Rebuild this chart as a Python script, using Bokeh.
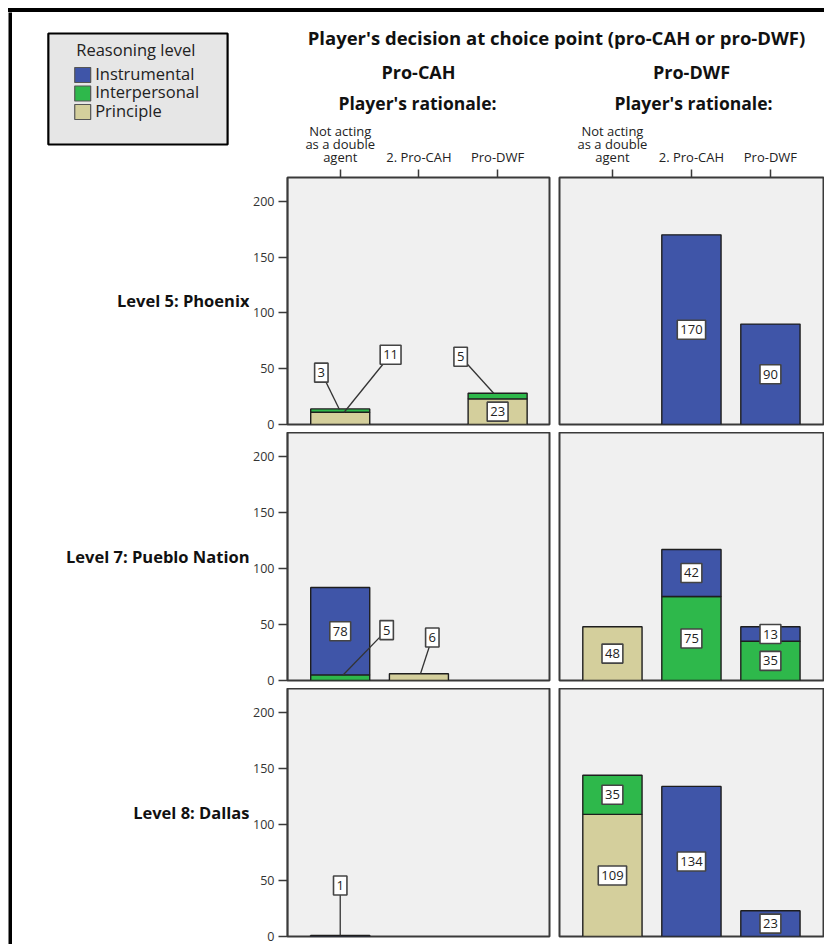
from bokeh.plotting import figure
from bokeh.layouts import row, column
from bokeh.models import ColumnDataSource, Range1d, LinearAxis, FixedTicker, Spacer, Div
from bokeh.core.properties import value
from bokeh.embed import file_html
from bokeh.resources import INLINE

FONT = "Open Sans"

# ---------------- data ----------------
levels = ["Instrumental", "Interpersonal", "Principle"]
level_colors = ["#3f55a8", "#2eb84b", "#d4cf9c"]
stack_order = ["Principle", "Interpersonal", "Instrumental"]   # bottom -> top
row_labels = ["Level 5: Phoenix", "Level 7: Pueblo Nation", "Level 8: Dallas"]
decisions = ["Pro-CAH", "Pro-DWF"]
rationales = ["Not acting\nas a double\nagent", "2. Pro-CAH", "Pro-DWF"]
y_ticks = [0, 50, 100, 150, 200]
title = "Player's decision at choice point (pro-CAH or pro-DWF)"
subtitle = "Player's rationale:"
legend_title = "Reasoning level"

# counts per row (level 5, 7, 8) and rationale, for each decision panel
instrumental_cah = [[0, 0, 0], [78, 0, 0], [1, 0, 0]]
instrumental_dwf = [[0, 170, 90], [0, 42, 13], [0, 134, 23]]
interpersonal_cah = [[3, 0, 5], [5, 0, 0], [0, 0, 0]]
interpersonal_dwf = [[0, 0, 0], [0, 75, 35], [35, 0, 0]]
principle_cah = [[11, 0, 23], [0, 6, 0], [0, 0, 0]]
principle_dwf = [[0, 0, 0], [48, 0, 0], [109, 0, 0]]

counts = {
    ("Instrumental", 0): instrumental_cah, ("Instrumental", 1): instrumental_dwf,
    ("Interpersonal", 0): interpersonal_cah, ("Interpersonal", 1): interpersonal_dwf,
    ("Principle", 0): principle_cah, ("Principle", 1): principle_dwf,
}
color_of = dict(zip(levels, level_colors))

# callout label placement (layout only): (row, decision, rationale, level) ->
# (anchor dx, anchor fraction of segment, box dx, box y)
callouts = {
    (0, 0, 0, "Interpersonal"): (-0.01, 0.8, -0.24, 46.5),
    (0, 0, 0, "Principle"): (0.05, 1.0, 0.64, 62.5),
    (0, 0, 2, "Interpersonal"): (-0.05, 1.0, -0.47, 60.7),
    (1, 0, 0, "Interpersonal"): (0.03, 0.9, 0.59, 45.0),
    (1, 0, 1, "Principle"): (0.02, 1.0, 0.17, 38.4),
    (2, 0, 0, "Instrumental"): (0.0, 1.0, 0.0, 45.5),
}

# ---------------- geometry ----------------
PX_PER_X = 79.0
PX_PER_Y = 56.0 / 50.0
FRAME_H = 248
BAR_W = 0.75
EDGE = "#3a3a3a"
ROW_BT = [58, 0, 0]
ROW_BB = [8, 8, 8]


def base_fig(w, h, bl, br, bt, bb, xr, yr, bg="white", border="white"):
    p = figure(width=w, height=h, x_range=xr, y_range=yr,
               output_backend="svg", toolbar_location=None,
               x_axis_location=None, y_axis_location=None,
               min_border_left=bl, min_border_right=br,
               min_border_top=bt, min_border_bottom=bb,
               background_fill_color=bg, border_fill_color=border,
               outline_line_color=None)
    p.grid.visible = False
    return p


def make_panel(r, d):
    left = d == 0
    fw = 263 if left else 264
    bl = 36 if left else 5
    br = 5 if left else 1
    bt = ROW_BT[r]
    bb = ROW_BB[r]
    x0 = -0.67
    p = base_fig(bl + fw + br, bt + FRAME_H + bb, bl, br, bt, bb,
                 Range1d(x0, x0 + fw / PX_PER_X), Range1d(0, FRAME_H / PX_PER_Y),
                 bg="#f0f0f0")
    p.outline_line_color = EDGE
    p.outline_line_width = 2

    if left:
        ax = LinearAxis(ticker=FixedTicker(ticks=y_ticks))
        ax.axis_line_color = EDGE
        ax.axis_line_width = 1.5
        ax.major_tick_line_color = EDGE
        ax.major_tick_line_width = 1.5
        ax.major_tick_in = 0
        ax.major_tick_out = 9
        ax.minor_tick_in = 0
        ax.minor_tick_out = 0
        ax.major_label_standoff = 4
        ax.major_label_text_font = FONT
        ax.major_label_text_font_size = "12.5px"
        ax.major_label_text_color = "#333333"
        p.add_layout(ax, "left")
    if r == 0:
        tx = LinearAxis(ticker=FixedTicker(ticks=[0, 1, 2]),
                        major_label_overrides={i: lab for i, lab in enumerate(rationales)})
        tx.axis_line_color = None
        tx.major_tick_line_color = EDGE
        tx.major_tick_line_width = 1.5
        tx.major_tick_in = 0
        tx.major_tick_out = 8
        tx.minor_tick_in = 0
        tx.minor_tick_out = 0
        tx.major_label_standoff = 4
        tx.major_label_text_font = FONT
        tx.major_label_text_font_size = "13px"
        tx.major_label_text_line_height = 0.72
        tx.major_label_text_color = "#222222"
        p.add_layout(tx, "above")

    seg = dict(x=[], bottom=[], top=[], color=[])
    lab = dict(x=[], y=[], t=[])
    lead = dict(x0=[], y0=[], x1=[], y1=[])
    for i in range(len(rationales)):
        bottom = 0
        for lvl in stack_order:
            v = counts[(lvl, d)][r][i]
            if v <= 0:
                continue
            top = bottom + v
            seg["x"].append(i)
            seg["bottom"].append(bottom)
            seg["top"].append(top)
            seg["color"].append(color_of[lvl])
            key = (r, d, i, lvl)
            if key in callouts:
                adx, afr, bdx, by = callouts[key]
                lead["x0"].append(i + adx)
                lead["y0"].append(bottom + afr * v)
                lead["x1"].append(i + bdx)
                lead["y1"].append(by)
                lab["x"].append(i + bdx)
                lab["y"].append(by)
            else:
                lab["x"].append(i)
                lab["y"].append((bottom + top) / 2.0)
            lab["t"].append(str(v))
            bottom = top

    p.vbar(x="x", width=BAR_W, bottom="bottom", top="top", fill_color="color",
           line_color="#1e1e1e", line_width=1.4, source=ColumnDataSource(seg))
    if lead["x0"]:
        p.segment(x0="x0", y0="y0", x1="x1", y1="y1", line_color="#333333",
                  line_width=1.3, source=ColumnDataSource(lead))
    p.text(x="x", y="y", text="t", source=ColumnDataSource(lab),
           text_font=value(FONT), text_font_size="13px", text_color="#222222",
           text_align="center", text_baseline="middle",
           background_fill_color="white", border_line_color="#444444",
           border_line_width=1.6, padding=dict(x=3, y=5))
    return p


def make_row_label(r):
    bt = ROW_BT[r] if r > 0 else 0
    bb = ROW_BB[r]
    p = base_fig(238, bt + FRAME_H + bb, 0, 1, bt, bb, Range1d(0, 237), Range1d(0, 1))
    p.text(x=[237], y=[0.5], text=[row_labels[r]], text_font=value(FONT),
           text_font_size="16.5px", text_font_style="bold", text_color="#111111",
           text_align="right", text_baseline="middle")
    return p


# ---------------- top-left block: legend ----------------
leg = base_fig(238, 164, 0, 0, 0, 0, Range1d(12, 250), Range1d(176, 12))
leg.quad(left=[48], right=[228], top=[33], bottom=[144], fill_color="#e6e6e6",
         line_color="black", line_width=2.2)
leg.text(x=[76], y=[49], text=[legend_title], text_font=value(FONT),
         text_font_size="16.5px", text_color="#222222", text_align="left",
         text_baseline="middle")
sw_y = [74.5, 93.0, 111.5]
leg.rect(x=[82.5] * 3, y=sw_y, width=16, height=15, fill_color=level_colors,
         line_color="#555555", line_width=1.2)
leg.text(x=[95] * 3, y=[y - 2 for y in sw_y], text=levels, text_font=value(FONT),
         text_font_size="16.5px", text_color="#222222", text_align="left",
         text_baseline="middle")

# ---------------- top-right block: titles ----------------
HW = 304 + 270
hdr = base_fig(HW, 106, 0, 0, 0, 0, Range1d(250, 250 + HW), Range1d(118, 12))
hdr.text(x=[556], y=[37], text=[title], text_font=value(FONT), text_font_size="18.5px",
         text_font_style="bold", text_color="#111111", text_align="center",
         text_baseline="middle")
hdr.text(x=[418, 691], y=[71, 71], text=decisions, text_font=value(FONT),
         text_font_size="18px", text_font_style="bold", text_color="#111111",
         text_align="center", text_baseline="middle")
hdr.text(x=[417, 693], y=[102, 102], text=[subtitle, subtitle], text_font=value(FONT),
         text_font_size="17.5px", text_font_style="bold", text_color="#111111",
         text_align="center", text_baseline="middle")

INNER_H = 106 + sum(ROW_BT) + 3 * FRAME_H + sum(ROW_BB)
left_strip = base_fig(4, INNER_H, 0, 0, 0, 0, Range1d(0, 1), Range1d(0, 1),
                      bg="black", border="black")
top_line = Div(text="", width=4 + 238 + HW, height=4, margin=(0, 0, 0, 0),
               styles={"background-color": "black"})

col_left = column(leg, *[make_row_label(r) for r in range(3)], spacing=0)
col_right = column(hdr, *[row(make_panel(r, 0), make_panel(r, 1), spacing=0)
                          for r in range(3)], spacing=0)
inner = row(left_strip, col_left, col_right, spacing=0)
framed = column(top_line, inner, spacing=0)
body = row(Spacer(width=8, height=INNER_H + 4), framed, spacing=0)
root = column(Spacer(width=8, height=8), body, spacing=0)

open("out.html", "w").write(file_html(root, INLINE))
